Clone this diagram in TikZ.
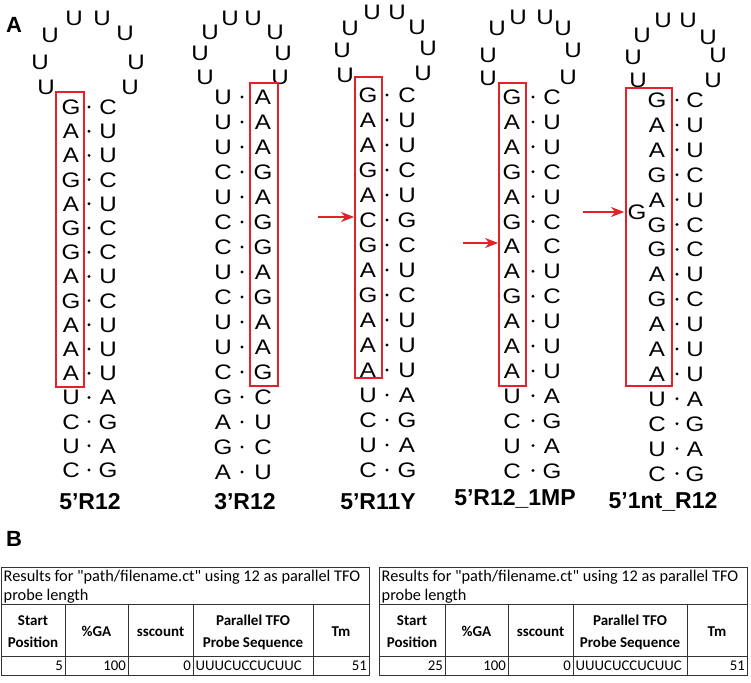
\documentclass[tikz,border=0pt]{standalone}
\usepackage{fontspec}
\setmainfont{Liberation Sans}
\newfontfamily\ntfont[FakeStretch=1.15]{Liberation Sans}
\newfontfamily\tabfont{Carlito}
\usetikzlibrary{arrows.meta}
\definecolor{boxred}{RGB}{228,32,40}
\newcommand{\drawhairpin}[9]{%
  \foreach \s [count=\i] in {#7} \node[nt] (#1L\i) at (#2,{#5+(\i-1)*#6}) {\s};
  \foreach \s [count=\i] in {#8} \node[nt] (#1R\i) at (#4,{#5+(\i-1)*#6}) {\s};
  \foreach \p [count=\i] in {#9} \node[nt] (#1U\i) at \p {U};
}
\newcommand{\bpdots}[5]{%
  \foreach \i in {#5} \node[bp] (#1D\i) at (#2,{#3+(\i-1)*#4}) {};
}
\newcommand{\restable}[8]{%
  % #1 name, #2 x0, #3-#6 dividers, #7 x1, #8 start
  \draw[tline] (#2,567) rectangle (#7,675);
  \draw[tline] (#2,604) -- (#7,604);
  \draw[tline] (#2,656) -- (#7,656);
  \foreach \d in {#3,#4,#5,#6} \draw[tline] (\d,604) -- (\d,675);
  \node[tt, anchor=base west] (#1t1) at (#2+2.5,581) {Results for "path/filename.ct" using 12 as parallel TFO};
  \node[tt, anchor=base west] (#1t2) at (#2+2.5,600) {probe length};
  \node[th, anchor=base] (#1h1a) at ({(#2+#3)/2},625) {Start};
  \node[th, anchor=base] (#1h1b) at ({(#2+#3)/2},647) {Position};
  \node[th, anchor=base] (#1h2) at ({(#3+#4)/2},636) {\%GA};
  \node[th, anchor=base] (#1h3) at ({(#4+#5)/2},636) {sscount};
  \node[th, anchor=base] (#1h4a) at ({(#5+#6)/2},625) {Parallel TFO};
  \node[th, anchor=base] (#1h4b) at ({(#5+#6)/2},647) {Probe Sequence};
  \node[th, anchor=base] (#1h5) at ({(#6+#7)/2},636) {Tm};
  \node[tf, anchor=base east] (#1v1) at (#3-2,670.5) {#8};
  \node[tf, anchor=base east] (#1v2) at (#4-2,670.5) {100};
  \node[tf, anchor=base east] (#1v3) at (#5-2,670.5) {0};
  \node[tf, anchor=base west] (#1v4) at (#5+2.5,670.5) {UUUCUCCUCUUC};
  \node[tf, anchor=base east] (#1v5) at (#7-2,670.5) {51};
}
\begin{document}
\begin{tikzpicture}[x=1pt,y=-1pt,
  nt/.style={inner sep=0pt, font=\ntfont\fontsize{21}{24}\selectfont, text height=15pt, text depth=0pt},
  bp/.style={circle, fill=black, inner sep=0pt, minimum size=3.2pt},
  rbox/.style={draw=boxred, line width=1.8pt, inner sep=0pt},
  rarrow/.style={draw=boxred, line width=1.6pt, -{Stealth[length=13pt,width=10pt,inset=4pt]}},
  lab/.style={font=\bfseries\fontsize{23}{26}\selectfont, inner sep=0pt},
  panel/.style={font=\bfseries\fontsize{22}{26}\selectfont, inner sep=0pt},
  tline/.style={draw=black!80, line width=0.8pt},
  tt/.style={font=\tabfont\fontsize{16.3}{19}\selectfont, inner sep=0pt},
  tf/.style={font=\tabfont\fontsize{14.8}{18}\selectfont, inner sep=0pt},
  th/.style={font=\tabfont\bfseries\fontsize{15}{18}\selectfont, inner sep=0pt}]
\useasboundingbox[fill=white] (0,0) rectangle (751,682);

\node[panel] (pA) at (14,25) {A};
\node[panel] (pB) at (14,539) {B};

% Hairpin 1: 5'R12
\drawhairpin{a}{71}{89}{108}{107}{24.2}
  {G,A,A,G,A,G,G,A,G,A,A,A,U,C,U,C}
  {C,U,U,C,U,C,C,U,C,U,U,U,A,G,A,G}
  {(46,87),(40,62),(50,35),(74,18),(102,18),(125,33),(136,62),(130,87)}
\bpdots{a}{89}{107}{24.2}{1,...,16}
\node[rbox, minimum width=28pt, minimum height=295pt] (box1) at (70,239.5) {};
\node[lab] (lab1) at (90,502) {5’R12};

% Hairpin 2: 3'R12
\drawhairpin{b}{223}{242}{263}{97}{25}
  {U,U,U,C,U,C,C,U,C,U,U,C,G,A,G,A}
  {A,A,A,G,A,G,G,A,G,A,A,G,C,U,C,U}
  {(205,77),(200,53),(210,32),(230,18),(253,18),(275,32),(283,53),(280,77)}
\bpdots{b}{242}{97}{25}{1,...,16}
\node[rbox, minimum width=28pt, minimum height=303pt] (box2) at (264,234.5) {};
\node[lab] (lab2) at (245,502) {3’R12};

% Hairpin 3: 5'R11Y
\drawhairpin{c}{368}{387}{407}{95}{25}
  {G,A,A,G,A,C,G,A,G,A,A,A,U,C,U,C}
  {C,U,U,C,U,G,C,U,C,U,U,U,A,G,A,G}
  {(345,75),(342,50),(350,28),(372,12),(397,12),(417,27),(428,48),(423,73)}
\bpdots{c}{387}{95}{25}{1,...,16}
\node[rbox, minimum width=27pt, minimum height=301pt] (box3) at (368.5,227.5) {};
\coordinate (arr3) at (318,217);
\draw[rarrow] (arr3) -- (arr3 -| box3.west);
\node[lab] (lab3) at (378,502) {5’R11Y};

% Hairpin 4: 5'R12_1MP
\drawhairpin{d}{512}{533}{552}{97}{24.9}
  {G,A,A,G,A,G,A,A,G,A,A,A,U,C,U,C}
  {C,U,U,C,U,C,C,U,C,U,U,U,A,G,A,G}
  {(488,78),(488,55),(497,28),(518,17),(545,17),(563,28),(573,50),(568,77)}
\bpdots{d}{533}{97}{24.9}{1,2,3,4,5,6,8,9,10,11,12,13,14,15,16}
\node[rbox, minimum width=27pt, minimum height=303pt] (box4) at (512.5,234.5) {};
\coordinate (arr4) at (463,243);
\draw[rarrow] (arr4) -- (arr4 -| box4.west);
\node[lab] (lab4) at (515,499) {5’R12\_1MP};

% Hairpin 5: 5'1nt_R12
\drawhairpin{e}{657}{677}{695}{100}{24.9}
  {G,A,A,G,A,G,G,A,G,A,A,A,U,C,U,C}
  {C,U,U,C,U,C,C,U,C,U,U,U,A,G,A,G}
  {(638,80),(633,57),(642,35),(663,20),(688,20),(708,37),(718,55),(713,80)}
\bpdots{e}{677}{100}{24.9}{1,...,16}
\node[nt] (eG) at (637,212) {G};
\node[rbox, minimum width=46pt, minimum height=298pt] (box5) at (649,237) {};
\coordinate (arr5) at (583,212);
\draw[rarrow, shorten >=1pt] (arr5) -- (arr5 -| box5.west);
\node[lab] (lab5) at (663,502) {5’1nt\_R12};

% Tables
\restable{p}{1}{65}{128}{193}{313}{369}{5}
\restable{q}{379}{445}{508}{573}{687}{747}{25}
\end{tikzpicture}
\end{document}
